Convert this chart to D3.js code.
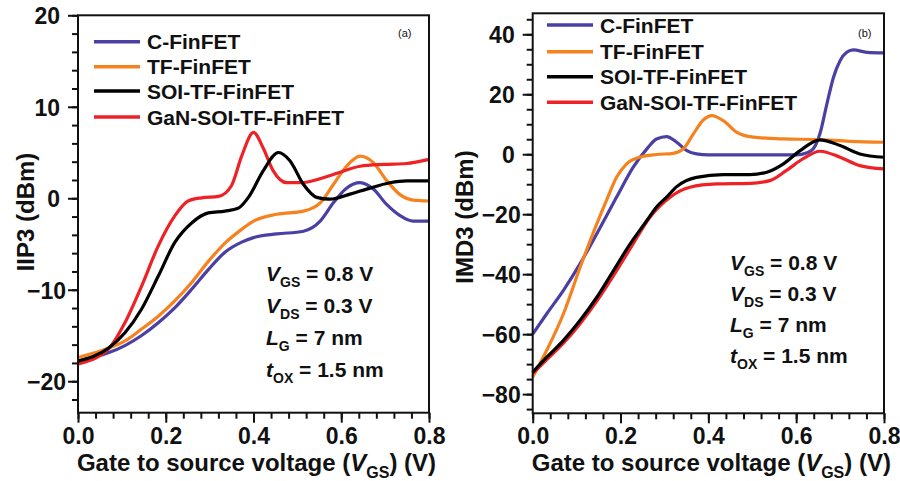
<!DOCTYPE html>
<html>
<head>
<meta charset="utf-8">
<script src="https://cdn.jsdelivr.net/npm/d3@7"></script>
<style>
  body { margin: 0; background: #fff; }
  svg { display: block; }
  text { font-family: Arial, "Liberation Sans", sans-serif; font-weight: bold; fill: #111; }
</style>
</head>
<body>
<div id="chart"></div>
<script>
// Series names (legend order)
const seriesNames = ["C-FinFET", "TF-FinFET", "SOI-TF-FinFET", "GaN-SOI-TF-FinFET"];

// Tick labels
const vgsTicks = [0, 0.2, 0.4, 0.6, 0.8];
const iip3Ticks = [-20, -10, 0, 10, 20];
const imd3Ticks = [-80, -60, -40, -20, 0, 20, 40];

// (a) IIP3 (dBm) vs VGS (V)
const iip3C = [[0,-17.8],[0.069,-16.9],[0.107,-16.1],[0.145,-15.0],[0.183,-13.6],[0.221,-11.95],[0.259,-9.95],[0.297,-7.8],[0.335,-5.9],[0.373,-4.8],[0.40,-4.3],[0.453,-3.9],[0.514,-3.6],[0.552,-2.5],[0.582,-0.5],[0.612,1.1],[0.643,1.7],[0.673,1.0],[0.704,-0.7],[0.734,-1.9],[0.764,-2.5],[0.8,-2.5]];
const iip3TF = [[0,-17.4],[0.069,-16.4],[0.107,-15.6],[0.145,-14.3],[0.183,-12.9],[0.221,-11.2],[0.259,-9.2],[0.297,-6.9],[0.335,-4.9],[0.373,-3.4],[0.40,-2.5],[0.453,-1.75],[0.514,-1.4],[0.552,-0.5],[0.582,1.5],[0.612,3.5],[0.643,4.6],[0.673,3.9],[0.704,1.9],[0.734,0.4],[0.764,-0.2],[0.8,-0.3]];
const iip3SOI = [[0,-17.8],[0.069,-16.4],[0.107,-14.7],[0.145,-12.1],[0.183,-8.5],[0.221,-4.8],[0.259,-2.7],[0.297,-1.6],[0.335,-1.4],[0.365,-1.1],[0.39,0.2],[0.422,3.0],[0.457,5.0],[0.483,4.1],[0.514,1.5],[0.544,0.1],[0.574,-0.1],[0.62,0.45],[0.658,1.0],[0.711,1.7],[0.749,1.9],[0.8,1.9]];
const iip3GaN = [[0,-18.1],[0.069,-16.5],[0.107,-13.6],[0.145,-9.6],[0.183,-5.2],[0.221,-1.9],[0.251,-0.3],[0.282,0.05],[0.32,0.2],[0.35,1.4],[0.373,4.6],[0.40,7.2],[0.422,5.5],[0.445,3.0],[0.476,1.7],[0.506,1.7],[0.582,2.6],[0.643,3.5],[0.696,3.7],[0.749,3.8],[0.8,4.25]];

// (b) IMD3 (dBm) vs VGS (V)
const imd3C = [[0,-60],[0.032,-53.2],[0.070,-45.4],[0.108,-36.5],[0.146,-26.5],[0.191,-14.3],[0.229,-4.3],[0.26,1.8],[0.282,5.1],[0.305,5.9],[0.328,4.0],[0.351,1.2],[0.373,0.1],[0.4,-0.2],[0.5,-0.2],[0.6,-0.2],[0.625,0.5],[0.639,1.8],[0.654,6.8],[0.670,16.8],[0.685,25.7],[0.70,31.2],[0.715,34],[0.73,34.8],[0.761,34],[0.8,33.8]];
const imd3TF = [[0,-74.3],[0.032,-65.4],[0.070,-53.2],[0.108,-37.7],[0.146,-23.2],[0.168,-15.4],[0.191,-7.7],[0.214,-3.2],[0.244,-1.0],[0.282,-0.1],[0.32,0.3],[0.343,1.8],[0.366,6.8],[0.389,11.5],[0.408,12.9],[0.434,11.2],[0.465,7.3],[0.502,5.7],[0.571,5.1],[0.647,4.9],[0.723,4.3],[0.8,4.0]];
const imd3SOI = [[0,-72.7],[0.032,-67.7],[0.070,-62.1],[0.108,-55.4],[0.146,-47.7],[0.184,-38.8],[0.222,-29.9],[0.26,-22.1],[0.282,-17.6],[0.305,-14.3],[0.328,-10.8],[0.373,-7.7],[0.434,-6.8],[0.495,-6.8],[0.533,-6.0],[0.571,-3.2],[0.609,1.2],[0.654,4.8],[0.70,2.9],[0.745,0.1],[0.8,-1.0]];
const imd3GaN = [[0,-73.2],[0.032,-68.5],[0.070,-63],[0.108,-56.5],[0.146,-49],[0.184,-40.5],[0.222,-31.5],[0.267,-21],[0.313,-14.3],[0.358,-11],[0.419,-9.9],[0.495,-9.7],[0.54,-8.8],[0.578,-5.4],[0.616,-1.5],[0.654,1.0],[0.70,-1.0],[0.745,-3.8],[0.8,-4.9]];

// Colours
const colors = ["#4a3fa2", "#f5821f", "#000000", "#ee2226"];
const drawOrder = [0, 1, 3, 2];

const svg = d3.select("#chart").append("svg")
  .attr("width", 900).attr("height", 481);

function panel(cfg) {
  const x = d3.scaleLinear().domain([0, 0.8]).range([cfg.left, cfg.right]);
  const y = d3.scaleLinear().domain(cfg.yDomain).range([cfg.bottom, cfg.top]);
  const g = svg.append("g");

  // minor ticks
  g.append("g")
    .attr("transform", `translate(0,${cfg.bottom})`)
    .call(d3.axisBottom(x).tickValues(d3.range(0, 0.8001, 0.04)).tickSize(6).tickSizeOuter(0).tickFormat(""))
    .call(a => a.select(".domain").remove());
  g.append("g")
    .attr("transform", `translate(${cfg.left},0)`)
    .call(d3.axisLeft(y).tickValues(d3.range(cfg.minorStart, cfg.yDomain[1] + 0.01, cfg.minorStep)).tickSize(6).tickSizeOuter(0).tickFormat(""))
    .call(a => a.select(".domain").remove());

  // major ticks + labels
  const xa = g.append("g")
    .attr("transform", `translate(0,${cfg.bottom})`)
    .call(d3.axisBottom(x).tickValues(vgsTicks).tickSize(10).tickSizeOuter(0).tickFormat(d3.format(".1f")));
  xa.select(".domain").remove();
  xa.selectAll("text").attr("y", 31).attr("dy", 0)
    .style("font-size", "23px").style("font-weight", "bold").attr("fill", "#111");

  const ya = g.append("g")
    .attr("transform", `translate(${cfg.left},0)`)
    .call(d3.axisLeft(y).tickValues(cfg.yTicks).tickSize(10).tickSizeOuter(0).tickFormat(d3.format("d")));
  ya.select(".domain").remove();
  ya.selectAll("text")
    .attr("x", d => d < 0 ? -12 : -18).attr("dy", "0.36em")
    .style("font-size", "23px").style("font-weight", "bold").attr("fill", "#111");
  g.selectAll(".tick line").attr("stroke", "#111").attr("stroke-width", 2);

  // lines
  const line = d3.line().x(d => x(d[0])).y(d => y(d[1])).curve(d3.curveMonotoneX);
  drawOrder.forEach(i => {
    g.append("path").datum(cfg.series[i])
      .attr("d", line)
      .attr("fill", "none")
      .attr("stroke", colors[i])
      .attr("stroke-width", 3.2)
      .attr("stroke-linejoin", "round");
  });

  // frame
  g.append("rect")
    .attr("x", cfg.left).attr("y", cfg.top)
    .attr("width", cfg.right - cfg.left).attr("height", cfg.bottom - cfg.top)
    .attr("fill", "none").attr("stroke", "#111").attr("stroke-width", 2);

  // legend
  seriesNames.forEach((name, i) => {
    const ly = cfg.legendY[i];
    g.append("line")
      .attr("x1", cfg.legendX).attr("x2", cfg.legendX + 46)
      .attr("y1", ly).attr("y2", ly)
      .attr("stroke", colors[i]).attr("stroke-width", 3.5);
    g.append("text")
      .attr("x", cfg.legendX + 53).attr("y", ly + 7.5)
      .style("font-size", "21px")
      .text(name);
  });

  // panel label
  g.append("text")
    .attr("x", cfg.tagX).attr("y", 37)
    .style("font-size", "11px").style("font-weight", "normal")
    .text(cfg.tag);

  // parameters
  const params = [["V", "GS", " = 0.8 V"], ["V", "DS", " = 0.3 V"], ["L", "G", " = 7 nm"], ["t", "OX", " = 1.5 nm"]];
  params.forEach((p, i) => {
    const t = g.append("text")
      .attr("x", cfg.paramX).attr("y", cfg.paramY + i * cfg.paramStep)
      .style("font-size", "21px");
    t.append("tspan").style("font-style", "italic").text(p[0]);
    t.append("tspan").attr("dy", 6).style("font-size", "14px").text(p[1]);
    t.append("tspan").attr("dy", -6).text(p[2]);
  });

  // x title
  const xt = g.append("text")
    .attr("x", (cfg.left + cfg.right) / 2 + 3).attr("y", 471)
    .attr("text-anchor", "middle")
    .style("font-size", "24px");
  xt.append("tspan").text("Gate to source voltage (");
  xt.append("tspan").style("font-style", "italic").text("V");
  xt.append("tspan").attr("dy", 7).style("font-size", "16px").text("GS");
  xt.append("tspan").attr("dy", -7).text(") (V)");

  // y title
  g.append("text")
    .attr("transform", `translate(${cfg.yTitleX},${cfg.yTitleY}) rotate(-90)`)
    .attr("text-anchor", "middle")
    .style("font-size", "24px")
    .text(cfg.yTitle);
}

panel({
  left: 78, right: 429, top: 15.3, bottom: 412.7,
  yDomain: [-23.44, 20], yTicks: iip3Ticks, minorStart: -22, minorStep: 2,
  series: [iip3C, iip3TF, iip3SOI, iip3GaN],
  legendX: 94, legendY: [41.7, 66.7, 91, 117],
  tag: "(a)", tagX: 398,
  paramX: 266, paramY: 280.7, paramStep: 32,
  yTitle: "IIP3 (dBm)", yTitleX: 34, yTitleY: 212
});

panel({
  left: 532.7, right: 884, top: 13.3, bottom: 413.3,
  yDomain: [-86.4, 47], yTicks: imd3Ticks, minorStart: -85, minorStep: 5,
  series: [imd3C, imd3TF, imd3SOI, imd3GaN],
  legendX: 547, legendY: [25, 51.7, 76.7, 102.3],
  tag: "(b)", tagX: 858,
  paramX: 730, paramY: 270, paramStep: 31,
  yTitle: "IMD3 (dBm)", yTitleX: 473, yTitleY: 217
});
</script>
</body>
</html>
